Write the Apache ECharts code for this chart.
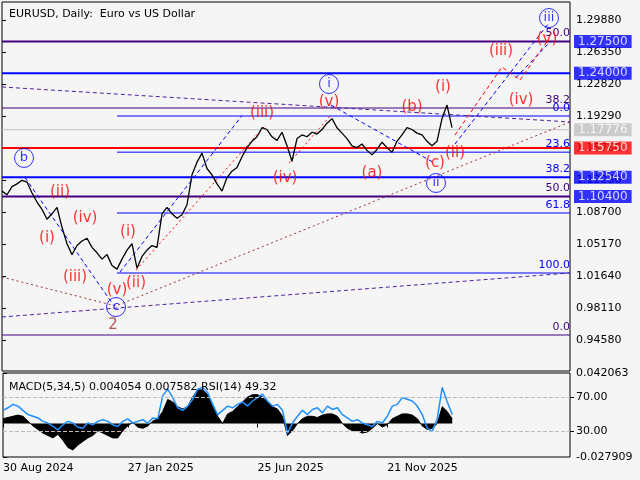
<!DOCTYPE html>
<html>
<head>
<meta charset="utf-8">
<script src="https://cdn.jsdelivr.net/npm/echarts@6/dist/echarts.min.js"></script>
<style>
  html, body { margin: 0; padding: 0; background: #f5f5f5; }
  #main { width: 640px; height: 480px; }
</style>
</head>
<body>
<div id="main"></div>
<script>
// weekly closes, x index = week
var closes = [1.110,1.106,1.115,1.118,1.122,1.120,1.108,1.098,1.090,1.079,
  1.085,1.092,1.070,1.052,1.040,1.050,1.055,1.058,1.048,1.042,
  1.035,1.040,1.028,1.024,1.035,1.045,1.052,1.025,1.038,1.045,
  1.050,1.048,1.085,1.092,1.085,1.080,1.084,1.095,1.128,1.142,
  1.152,1.135,1.128,1.118,1.110,1.125,1.132,1.136,1.148,1.158,
  1.165,1.170,1.180,1.178,1.170,1.166,1.175,1.160,1.143,1.168,
  1.172,1.170,1.175,1.173,1.178,1.185,1.190,1.180,1.174,1.168,
  1.160,1.158,1.162,1.155,1.150,1.156,1.164,1.158,1.153,1.165,
  1.172,1.180,1.178,1.174,1.172,1.165,1.160,1.165,1.190,1.205,1.180];
var macd = [0.004,0.005,0.006,0.007,0.006,0.002,
  -0.002,-0.005,-0.008,-0.010,-0.012,-0.009,-0.014,
  -0.020,-0.022,-0.018,-0.015,-0.012,-0.010,-0.006,-0.008,
  -0.010,-0.012,-0.012,-0.006,-0.002,0.001,-0.003,-0.004,-0.002,0.002,0.004,
  0.010,0.020,0.018,0.014,0.012,0.014,
  0.022,0.028,0.028,0.024,0.016,0.006,
  0.000,0.008,0.010,0.014,0.018,0.022,0.024,0.024,0.022,
  0.018,0.014,0.012,0.006,-0.010,
  -0.006,0.000,0.004,0.006,0.006,0.005,0.007,0.008,0.008,0.006,
  0.000,-0.004,-0.006,-0.006,-0.008,-0.007,-0.004,0.000,-0.003,-0.001,
  0.004,0.006,0.008,0.008,0.007,0.004,
  -0.002,-0.005,-0.004,0.000,
  0.014,0.010,0.004];
var rsi = [55,58,62,60,55,50,
  48,46,42,40,36,32,38,
  42,40,35,34,40,38,42,44,
  42,38,36,42,45,40,42,44,40,46,45,
  72,80,70,58,55,60,
  68,80,82,76,62,50,
  55,60,58,62,65,60,66,70,74,
  66,60,62,55,28,
  40,48,55,50,56,58,52,60,56,58,
  50,46,42,44,40,38,36,42,40,48,
  60,62,70,68,66,60,
  50,34,30,45,
  82,65,50];

var xTicks = [0, 25, 51, 77];
var xTickLabels = ['30 Aug 2024', '27 Jan 2025', '25 Jun 2025', '21 Nov 2025'];
var yTicks = [1.2988,1.2635,1.2282,1.1929,1.1576,1.1223,1.0870,1.0517,1.0164,0.9811,0.9458];

// levels: [price, colour, width, fib label, starts at]
var levels = [
  [1.2750, '#400080', 2, '50.0', 0],
  [1.2400, '#0000ff', 2, '', 0],
  [1.2017, '#400080', 1, '38.2', 0],
  [1.1929, '#0000ff', 1, '0.0', 23],
  [1.17776, '#c0c0c0', 1, '', 0],
  [1.1575, '#ff0000', 2, '', 0],
  [1.1530, '#0000ff', 1, '23.6', 23],
  [1.1254, '#0000ff', 2, '38.2', 0],
  [1.1040, '#400080', 2, '50.0', 0],
  [1.0859, '#0000ff', 1, '61.8', 23],
  [1.0197, '#0000ff', 1, '100.0', 23],
  [0.9513, '#400080', 1, '0.0', 0]
];
// price tags on the right axis
var tagPrices = [1.2750, 1.2400, 1.17776, 1.1575, 1.1254, 1.1040];
var tagColors = ['#0000ff', '#0000ff', '#c0c0c0', '#ff0000', '#0000ff', '#0000ff'];

// trend lines in [week, price]
var trendLines = [
  ['#0000ff', 'dashed', [[4.6,1.125],[22.2,0.985]]],
  ['#0000ff', 'dashed', [[23.6,1.0208],[48,1.1933]]],
  ['#0000ff', 'dashed', [[65.8,1.2049],[86.2,1.1420]]],
  ['#0000ff', 'dashed', [[90.6,1.1620],[109.2,1.2943]]],
  ['#0000ff', 'dashed', [[102.8,1.2353],[109.2,1.2722]]],
  ['#ff0000', 'dashed', [[90.6,1.1719],[100,1.2469],[103.6,1.2326],[109.2,1.2767]]],
  ['#ff0000', 'dotted', [[26.8,1.0230],[52.4,1.1810]]],
  ['#ff0000', 'dotted', [[57.4,1.1410],[65.8,1.1940]]],
  ['#a03030', 'dotted', [[0,1.0153],[22.8,0.9833],[113.6,1.1863]]],
  ['#5020a0', 'dashed', [[0,0.9712],[113.6,1.0197]]],
  ['#5020a0', 'dashed', [[0,1.2249],[113.6,1.1863]]]
];

var redWaves = [
  ['(ii)',11.6,1.109],['(i)',9.0,1.0583],['(iv)',16.6,1.0804],['(iii)',14.6,1.0153],
  ['(i)',25.2,1.0649],['(ii)',26.8,1.0087],['(v)',23,1.0010],['(iii)',52,1.1962],
  ['(iv)',56.6,1.1245],['(v)',65.4,1.2083],['(a)',74,1.1300],['(b)',82,1.2028],
  ['(c)',86.6,1.1410],['(i)',88.2,1.2249],['(ii)',90.6,1.1521],['(iv)',103.8,1.2105],
  ['(iii)',99.8,1.2646],['(v)',109,1.2778]
];
var blueWaves = [['b',4.4,1.1466],['c',22.8,0.9822],['i',65.4,1.2282],['ii',86.8,1.1190],['iii',109.4,1.3010]];
var brownWaves = [['2',22.2,0.9623]];

var font = 'DejaVu Sans';
var myChart = echarts.init(document.getElementById('main'));

function waveSeries(list, color, circled) {
    return {
        type: 'scatter', xAxisIndex: 0, yAxisIndex: 0, z: 5,
        symbol: 'circle', symbolSize: circled ? 19 : 0,
        itemStyle: {color: 'rgba(0,0,0,0)', borderColor: color, borderWidth: 1},
        label: {show: true, position: 'inside', formatter: '{b}', color: color, fontSize: circled ? 13 : 15, fontFamily: font},
        data: list.map(function (w) { return {name: w[0], value: [w[1], w[2]]}; })
    };
}

var series = [];
levels.forEach(function (l) {
    series.push({
        type: 'line', xAxisIndex: 0, yAxisIndex: 0, symbol: 'none', z: 2, silent: true,
        lineStyle: {color: l[1], width: l[2]},
        endLabel: {show: !!l[3], formatter: l[3], align: 'right', offset: [-8, -8],
                   color: l[1], fontSize: 11, fontFamily: font},
        data: [[l[4], l[0]], [113.6, l[0]]]
    });
});
series.push({
    type: 'line', xAxisIndex: 0, yAxisIndex: 0, symbol: 'none', z: 4,
    lineStyle: {color: '#000', width: 1.3},
    data: closes.map(function (v, i) { return [i, v]; })
});
trendLines.forEach(function (t) {
    series.push({type: 'line', xAxisIndex: 0, yAxisIndex: 0, symbol: 'none', z: 3,
        lineStyle: {color: t[0], width: 1, type: t[1] == 'dotted' ? [2, 3] : [4, 3]}, data: t[2]});
});
series.push(waveSeries(redWaves, '#ff0000', false));
series.push(waveSeries(blueWaves, '#0000ff', true));
series.push(waveSeries(brownWaves, '#a03030', false));
series.push({
    type: 'scatter', xAxisIndex: 0, yAxisIndex: 0, symbolSize: 0, clip: false, z: 10, silent: true,
    data: tagPrices.map(function (p, i) {
        return {value: [113.6, p], label: {show: true, position: 'right', distance: 4, formatter: p.toFixed(5),
            color: '#fff', backgroundColor: tagColors[i], fontSize: 12, fontFamily: font, padding: [1, 4, 0, 4]}};
    })
});
series.push({
    type: 'line', xAxisIndex: 1, yAxisIndex: 1, symbol: 'none',
    lineStyle: {color: '#000', width: 1}, areaStyle: {color: '#000', origin: 0, opacity: 1},
    data: macd.map(function (v, i) { return [i, v]; })
});
series.push({
    type: 'line', xAxisIndex: 1, yAxisIndex: 2, symbol: 'none',
    lineStyle: {color: '#1e90ff', width: 1.5},
    data: rsi.map(function (v, i) { return [i, v]; }),
    markLine: {symbol: 'none', silent: true, label: {show: false},
        lineStyle: {color: '#bbb', type: 'dashed', width: 1}, data: [{yAxis: 70}, {yAxis: 30}]}
});

var axisTxt = {color: '#000', fontSize: 11, fontFamily: font};
option = {
    backgroundColor: '#f5f5f5',
    animation: false,
    title: [
        {text: 'EURUSD, Daily:  Euro vs US Dollar', left: 4, top: 4, textStyle: {fontSize: 11, fontWeight: 'normal', fontFamily: font, color: '#000'}},
        {text: 'MACD(5,34,5) 0.004054 0.007582 RSI(14) 49.32', left: 4, top: 377, textStyle: {fontSize: 11, fontWeight: 'normal', fontFamily: font, color: '#000'}}
    ],
    grid: [
        {left: 2, top: 2, width: 568, height: 369, show: true, borderColor: '#000', borderWidth: 1, backgroundColor: 'transparent'},
        {left: 2, top: 373, width: 568, height: 84, show: true, borderColor: '#000', borderWidth: 1, backgroundColor: 'transparent'}
    ],
    xAxis: [
        {type: 'value', gridIndex: 0, min: 0, max: 113.6, axisLabel: {show: false}, axisTick: {show: false}, axisLine: {show: false}, splitLine: {show: false}},
        {type: 'value', gridIndex: 1, min: 0, max: 113.6, axisLine: {show: false}, splitLine: {show: false},
         axisTick: {show: true, customValues: xTicks, length: 4, lineStyle: {color: '#000'}},
         axisLabel: Object.assign({customValues: xTicks, align: 'left', margin: 6,
            formatter: function (v) { return xTickLabels[xTicks.indexOf(v)] || ''; }}, axisTxt)}
    ],
    yAxis: [
        {type: 'value', gridIndex: 0, position: 'right', min: 0.9116, max: 1.31866, splitLine: {show: false}, axisLine: {show: false},
         axisTick: {show: true, customValues: yTicks, length: 4, lineStyle: {color: '#000'}},
         axisLabel: Object.assign({customValues: yTicks, margin: 6, formatter: function (v) { return v.toFixed(5); }}, axisTxt)},
        {type: 'value', gridIndex: 1, position: 'right', min: -0.027909, max: 0.042063, splitLine: {show: false}, axisLine: {show: false},
         axisTick: {show: true, customValues: [0.042063, -0.027909], length: 4, lineStyle: {color: '#000'}},
         axisLabel: Object.assign({customValues: [0.042063, -0.027909], margin: 6, formatter: function (v) { return v.toFixed(6); }}, axisTxt)},
        {type: 'value', gridIndex: 1, position: 'right', min: 0, max: 99, splitLine: {show: false}, axisLine: {show: false},
         axisTick: {show: true, customValues: [70, 30], length: 4, lineStyle: {color: '#000'}},
         axisLabel: Object.assign({customValues: [70, 30], margin: 6, formatter: function (v) { return v.toFixed(2); }}, axisTxt)}
    ],
    series: series
};

myChart.setOption(option);
</script>
</body>
</html>
